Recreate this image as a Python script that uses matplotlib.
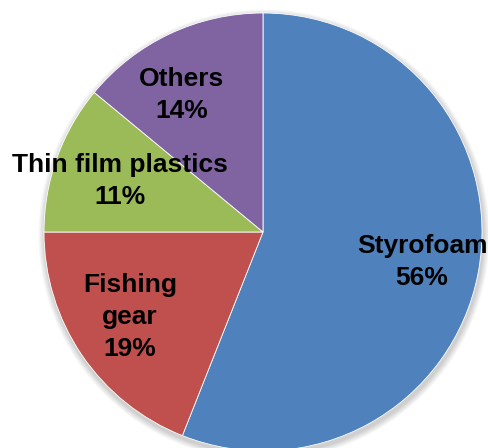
import matplotlib.pyplot as plt
from matplotlib.patches import Circle

categories = ['Styrofoam', 'Fishing\ngear', 'Thin film plastics', 'Others']
shares = [56, 19, 11, 14]
colors = ['#4F81BD', '#C0504D', '#9BBB59', '#8064A2']

plt.rcParams['font.family'] = ['Liberation Sans', 'DejaVu Sans']

fig = plt.figure(figsize=(4.89, 4.48), dpi=100)
ax = fig.add_axes([0, 0, 1, 1])
ax.set_xlim(0, 489)
ax.set_ylim(0, 448)
ax.set_aspect('equal')
ax.axis('off')

cx, cy, r = 263, 216, 219

# soft shadow under the pie
for i in range(8):
    ax.add_patch(Circle((cx + 1, cy - 3), r + 1 + i * 0.8, color='black',
                        alpha=0.025, lw=0, zorder=0))

wedges, _ = ax.pie(shares, colors=colors, startangle=90, counterclock=False,
                   center=(cx, cy), radius=r, frame=True,
                   wedgeprops={'edgecolor': 'white', 'linewidth': 0.6})
ax.set_xlim(0, 489)
ax.set_ylim(0, 448)
ax.axis('off')

# label blocks (pixel positions, y measured from top)
label_pos = [(422, 262), (130, 317), (120, 181), (182, 95)]
for name, val, (x, y) in zip(categories, shares, label_pos):
    ax.text(x, 448 - y, f'{name}\n{val}%', ha='center', va='center',
            fontsize=19, fontweight='bold', color='black', linespacing=1.4,
            zorder=5)

fig.savefig('out.png', dpi=100)
